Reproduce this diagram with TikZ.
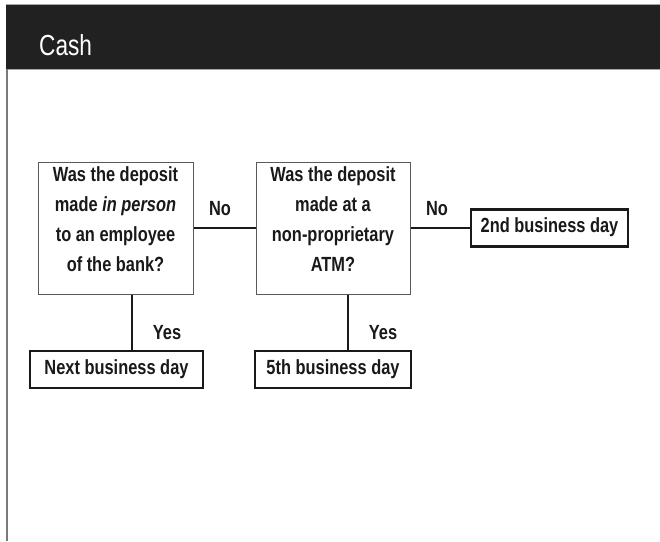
\documentclass[tikz,border=0pt]{standalone}
\usepackage{fontspec}
\newfontfamily\bodyfont[FakeStretch=0.8]{Liberation Sans}
\newfontfamily\headfont[FakeStretch=0.78]{Liberation Sans}
\usetikzlibrary{positioning}

\begin{document}
\begin{tikzpicture}[x=1pt,y=-1pt,
	txt/.style={text=black!90, font=\bodyfont\bfseries\fontsize{20.5}{30}\selectfont, inner sep=0pt},
	question/.style={txt, draw=black!65, line width=1pt, minimum width=155pt, minimum height=132pt, align=center, text depth=17pt},
	answer/.style={txt, draw=black!90, line width=2.4pt, minimum height=37pt, text height=13pt, text depth=4pt},
	conn/.style={draw=black!90, line width=2pt}]
		\useasboundingbox (0,0) rectangle (660,541);

		\fill[black!87] (6,4) rectangle (660,69);
		\draw[black!35, line width=1pt] (6,4) -- (660,4);
		\draw[black!35, line width=1pt] (6,69) -- (660,69);
		\draw[black!52, line width=2pt] (7,69) -- (7,541);
		\node[anchor=base west, inner sep=0pt, text=white, font=\headfont\fontsize{29}{29}\selectfont] (title) at (39,55) {Cash};

		\node[question] (q1) at (115.5,228) {Was the deposit\\made \textit{in person}\\to an employee\\of the bank?};
		\node[question, minimum width=154pt] (q2) at (333,228) {Was the deposit\\made at a\\non-proprietary\\ATM?};

		\node[answer, minimum width=157pt] (d2) at (549.5,228) {2nd business day};
		\node[answer, minimum width=173pt] (dnext) at (116.5,369.5) {Next business day};
		\node[answer, minimum width=156pt] (d5) at (333,369.5) {5th business day};

		\coordinate (t1) at ([xshift=16.5pt]q1.south);
		\coordinate (t2) at ([xshift=15pt]q2.south);
		\draw[conn] (q1) -- (q2);
		\draw[conn] (q2) -- (d2);
		\draw[conn] (t1) -- (t1 |- dnext.north);
		\draw[conn] (t2) -- (t2 |- d5.north);

		\node[txt, anchor=base] (no1) at (220,215) {No};
		\node[txt, anchor=base] (no2) at (437,215) {No};
		\node[txt, anchor=base] (yes1) at (167,339) {Yes};
		\node[txt, anchor=base] (yes2) at (383,339) {Yes};
	\end{tikzpicture}
\end{document}
